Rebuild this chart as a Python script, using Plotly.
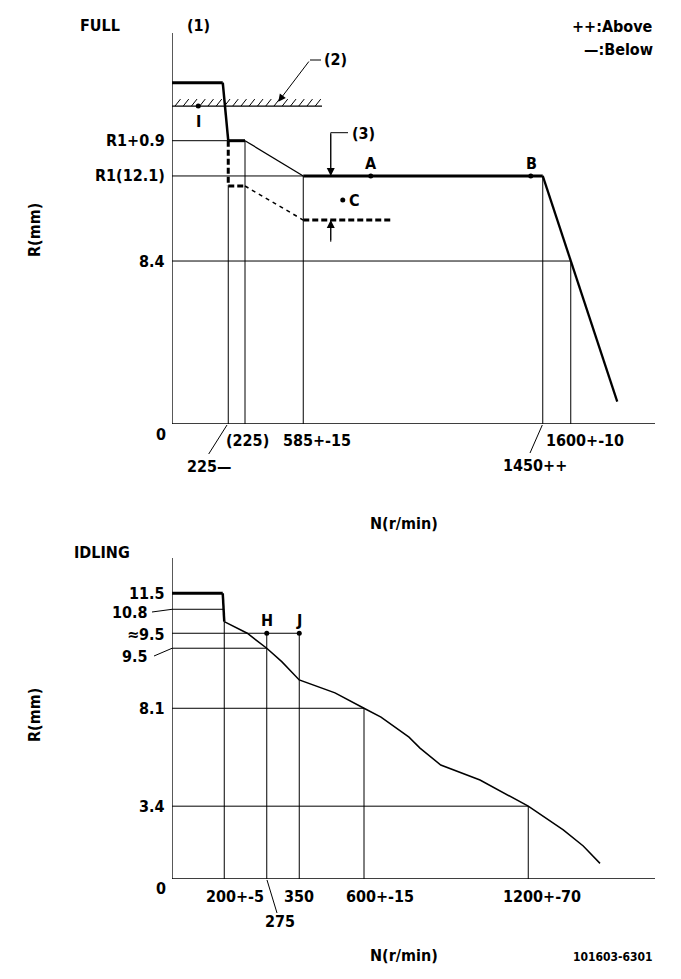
import plotly.graph_objects as go
import numpy as np

# page body keeps an 8px margin, so the figure is placed inside it
OFF = 8
W, H = 681 - 2 * OFF, 979 - 2 * OFF
FONT = "Liberation Sans Narrow, DejaVu Sans Condensed, Arial Narrow, sans-serif"

# ---------------- FULL (top) chart: values ----------------
full_n_axis_max = 1932
full_r_axis_max = 19.07
full_curve_n = [0, 203, 225, 292, 525, 1483, 1781]
full_curve_r = [16.65, 16.65, 13.82, 13.82, 12.10, 12.10, 1.09]
full_curve_w = [3, 2.5, 3, 1.3, 3, 2.3]          # per segment
below_curve_n = [225, 225, 292, 525, 883]
below_curve_r = [13.82, 11.61, 11.61, 9.95, 9.95]
below_curve_w = [3, 3, 1.5, 3]
stop_n_end = 600
stop_r = 15.51
full_ref_n = [225, 292, 525, 1483, 1595]          # vertical guide lines
full_ref_top = [11.61, 13.82, 12.10, 12.10, 7.95]
full_hline_r = [13.82, 12.10, 7.95]               # horizontal guide lines
full_hline_end = [225, 525, 1595]
full_ytick_labels = ["R1+0.9", "R1(12.1)", "8.4"]
full_points = {"I": (105, 15.51), "A": (795, 12.10), "B": (1435, 12.10), "C": (683, 10.93)}
tol_n = 635
tol_r = [12.10, 9.95]
tol_ends = [14.21, 8.89]

# ---------------- IDLING (bottom) chart ----------------
idle_n_axis_max = 1932
idle_r_axis_max = 14.59
idle_top_n = [0, 203, 209]
idle_top_r = [12.99, 12.99, 11.70]
idle_curve_n = [209, 301, 379, 439, 509, 652, 768, 836, 948, 992, 1075, 1232, 1425, 1565, 1645, 1712]
idle_curve_r = [11.70, 11.17, 10.49, 9.88, 9.05, 8.46, 7.76, 7.36, 6.45, 5.95, 5.18, 4.50, 3.31, 2.23, 1.50, 0.71]
idle_ref_n = [209, 379, 509, 768, 1425]
idle_ref_top = [11.70, 11.17, 11.17, 7.76, 3.31]
idle_hline_r = [12.26, 11.17, 10.49, 7.76, 3.31]
idle_hline_end = [209, 509, 379, 768, 1425]
idle_points = {"H": (379, 11.17), "J": (509, 11.17)}

fig = go.Figure()

def px(x):
    return (x - OFF) / W

def py(y):
    return 1 - (y - OFF) / H

def line(xs, ys, axis, w=1, dash=None):
    xa, ya = axis
    fig.add_trace(go.Scatter(x=xs, y=ys, xaxis=xa, yaxis=ya, mode="lines",
                             line=dict(color="black", width=w, dash=dash),
                             hoverinfo="skip", showlegend=False))

TOP = ("x", "y")
BOT = ("x2", "y2")

# axes frames
line([0, 0, full_n_axis_max], [full_r_axis_max, 0, 0], TOP, 1.3)
line([0, 0, idle_n_axis_max], [idle_r_axis_max, 0, 0], BOT, 1.3)

# top guides
for n, t in zip(full_ref_n, full_ref_top):
    line([n, n], [0, t], TOP, 1)
for r, e in zip(full_hline_r, full_hline_end):
    line([0, e], [r, r], TOP, 1)

# top curve
for i, w in enumerate(full_curve_w):
    line(full_curve_n[i:i + 2], full_curve_r[i:i + 2], TOP, w)
dashes = ["6px,3px", "6px,3px", "4px,4px", "6px,3px"]
for i, w in enumerate(below_curve_w):
    line(below_curve_n[i:i + 2], below_curve_r[i:i + 2], TOP, w, dashes[i])

# stopper line with hatching
line([0, stop_n_end], [stop_r, stop_r], TOP, 1.2)
hx = []
hy = []
for x0 in np.arange(12, stop_n_end - 10, 33):
    hx += [x0, x0 + 22, None]
    hy += [stop_r, stop_r + 0.34, None]
fig.add_trace(go.Scatter(x=hx, y=hy, mode="lines", line=dict(color="black", width=1),
                         hoverinfo="skip", showlegend=False))

# tolerance (3) line segments
line([tol_n, tol_n], [tol_ends[0], tol_r[0]], TOP, 1)
line([tol_n, tol_n], [tol_r[1], tol_ends[1]], TOP, 1)

# points top
fig.add_trace(go.Scatter(x=[v[0] for v in full_points.values()],
                         y=[v[1] for v in full_points.values()],
                         mode="markers", marker=dict(color="black", size=5),
                         hoverinfo="skip", showlegend=False))

# bottom guides
for n, t in zip(idle_ref_n, idle_ref_top):
    line([n, n], [0, t], BOT, 1)
for r, e in zip(idle_hline_r, idle_hline_end):
    line([0, e], [r, r], BOT, 1)
line(idle_top_n[:2], idle_top_r[:2], BOT, 3)
line(idle_top_n[1:], idle_top_r[1:], BOT, 2.5)
line(idle_curve_n, idle_curve_r, BOT, 1.5)
fig.add_trace(go.Scatter(x=[v[0] for v in idle_points.values()], y=[v[1] for v in idle_points.values()],
                         xaxis="x2", yaxis="y2", mode="markers",
                         marker=dict(color="black", size=5), hoverinfo="skip", showlegend=False))

ann = []

def txt(x, y, s, anchor="center", size=16, angle=0):
    ann.append(dict(x=px(x), y=py(y), xref="paper", yref="paper", text=s, showarrow=False,
                    xanchor=anchor, yanchor="middle", textangle=angle,
                    font=dict(family=FONT, size=size, color="black", weight="bold")))

# top texts
txt(78, 25, "FULL", "left")
txt(198, 25, "(1)")
txt(655, 27, "++:Above", "right")
txt(655, 49, "—:Below", "right")
txt(322, 60, "(2)", "left")
txt(198, 121, "I")
for lab, r in zip(full_ytick_labels, full_hline_r):
    txt(167, 424 - r * 20.5, lab, "right")
txt(371, 163, "A")
txt(531, 163, "B")
txt(350, 133, "(3)", "left")
txt(347, 200, "C", "left")
txt(161, 434, "0")
txt(224, 440, "(225)", "left")
txt(317, 440, "585+-15")
txt(185, 466, "225—", "left")
txt(585, 440, "1600+-10")
txt(535, 465, "1450++")
txt(404, 523, "N(r/min)")
txt(34, 230, "R(mm)", angle=-90)

# bottom texts
txt(72, 552, "IDLING", "left")
txt(167, 593, "11.5", "right")
txt(150, 612, "10.8", "right")
txt(167, 634, "≈9.5", "right")
txt(150, 656, "9.5", "right")
txt(167, 708, "8.1", "right")
txt(167, 806, "3.4", "right")
txt(161, 888, "0")
txt(267, 620, "H")
txt(299, 620, "J")
txt(235, 896, "200+-5")
txt(299, 896, "350")
txt(380, 896, "600+-15")
txt(542, 896, "1200+-70")
txt(280, 921, "275")
txt(404, 955, "N(r/min)")
txt(655, 957, "101603-6301", "right", size=12)
txt(34, 715, "R(mm)", angle=-90)

# arrows
ann.append(dict(x=px(278.3), y=py(101.7), xref="paper", yref="paper", ax=31.7, ay=-41.7,
                showarrow=True, arrowhead=2, arrowsize=1.5, arrowwidth=1, arrowcolor="black", text=""))
ann.append(dict(x=tol_n, y=tol_r[0], xref="x", yref="y", ax=0, ay=-43.3, showarrow=True,
                arrowhead=2, arrowsize=1.6, arrowwidth=1, arrowcolor="black", text=""))
ann.append(dict(x=tol_n, y=tol_r[1], xref="x", yref="y", ax=0, ay=21.7, showarrow=True,
                arrowhead=2, arrowsize=1.6, arrowwidth=1, arrowcolor="black", text=""))

shapes = []

def seg(x0, y0, x1, y1, w=1):
    shapes.append(dict(type="line", xref="paper", yref="paper", x0=px(x0), y0=py(y0),
                       x1=px(x1), y1=py(y1), line=dict(color="black", width=w)))

seg(310, 60, 321, 60)
seg(330.7, 132.7, 348, 132.7)
seg(227, 425, 208.7, 454)
seg(542.3, 425, 530, 453)
seg(152, 612, 172, 609.3)
seg(154, 656, 172, 648.3)
seg(267, 880, 277, 913)

fig.update_layout(
    width=W, height=H, autosize=False,
    margin=dict(l=0, r=0, t=0, b=0),
    paper_bgcolor="white", plot_bgcolor="white",
    annotations=ann, shapes=shapes, showlegend=False,
    xaxis=dict(domain=[px(172), px(172 + full_n_axis_max / 4)], range=[0, full_n_axis_max], visible=False),
    yaxis=dict(domain=[py(424), py(424 - full_r_axis_max * 20.5)], range=[0, full_r_axis_max], visible=False),
    xaxis2=dict(domain=[px(172), px(172 + idle_n_axis_max / 4)], range=[0, idle_n_axis_max], visible=False, anchor="y2"),
    yaxis2=dict(domain=[py(879), py(879 - idle_r_axis_max * 22)], range=[0, idle_r_axis_max], visible=False, anchor="x2"),
)

fig.write_html("out.html")
